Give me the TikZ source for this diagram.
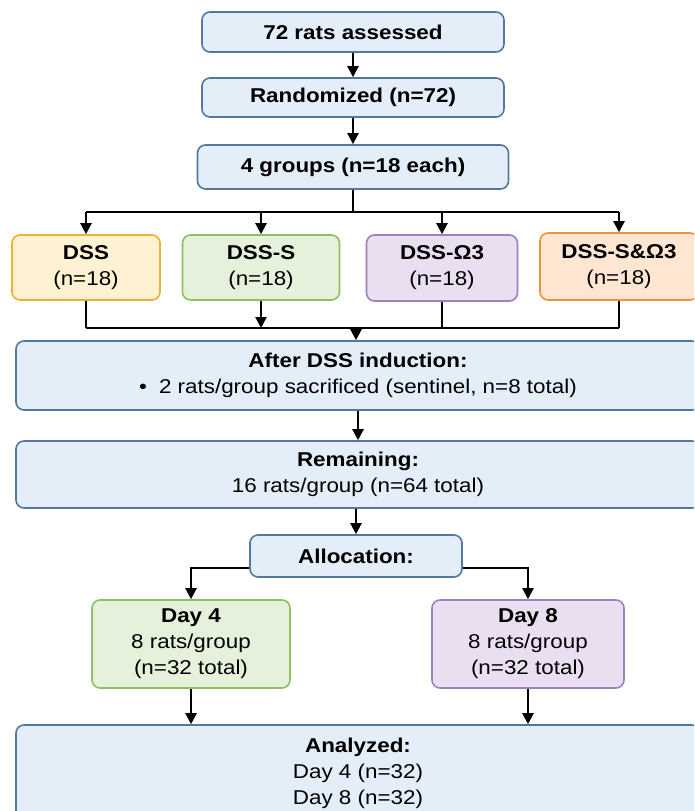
\documentclass[tikz,border=0pt]{standalone}
\usepackage{fontspec}
\setmainfont[FakeStretch=1.12]{Liberation Sans}
\usetikzlibrary{arrows.meta,calc}
\definecolor{bluefill}{HTML}{E4EEF8}
\definecolor{blueline}{HTML}{54779F}
\definecolor{yelfill}{HTML}{FFF2D2}
\definecolor{yelline}{HTML}{E8B13A}
\definecolor{grnfill}{HTML}{E6F1DC}
\definecolor{grnline}{HTML}{8CC063}
\definecolor{purfill}{HTML}{EADFF1}
\definecolor{purline}{HTML}{A07FBF}
\definecolor{orafill}{HTML}{FEE6D2}
\definecolor{oraline}{HTML}{F0913F}
\tikzset{
  box/.style={draw, rounded corners=8pt, line width=1.6pt, align=center,
    inner sep=0pt, font=\fontsize{20}{26}\selectfont, anchor=center},
  bluebox/.style={box, draw=blueline, fill=bluefill},
  yelbox/.style={box, draw=yelline, fill=yelfill},
  grnbox/.style={box, draw=grnline, fill=grnfill},
  purbox/.style={box, draw=purline, fill=purfill},
  orabox/.style={box, draw=oraline, fill=orafill},
  conn/.style={line width=2.2pt, black},
  arr/.style={conn, -{Triangle[length=11pt,width=11pt]}}
}
\begin{document}
\begin{tikzpicture}[x=1pt,y=-1pt]
\useasboundingbox (0,0) rectangle (694,811);
\clip (0,0) rectangle (694,811);
\fill[white] (0,0) rectangle (694,811);

\node[bluebox, minimum width=302pt, minimum height=40pt] (b1) at (353,32) {\textbf{72 rats assessed}};
\node[bluebox, minimum width=302pt, minimum height=39pt] (b2) at (353,97.5) {\textbf{Randomized (n=72)}};
\node[bluebox, minimum width=311pt, minimum height=44pt] (b3) at (353,167) {\textbf{4 groups\hspace{6pt}(n=18 each)}};

\node[yelbox, minimum width=148pt, minimum height=65pt] (g1) at (86,267.5) {\textbf{DSS}\\(n=18)};
\node[grnbox, minimum width=157pt, minimum height=65pt] (g2) at (261,267.5) {\textbf{DSS-S}\\(n=18)};
\node[purbox, minimum width=151pt, minimum height=66pt] (g3) at (442,268) {\textbf{DSS-Ω3}\\(n=18)};
\node[orabox, minimum width=158pt, minimum height=67pt] (g4) at (619,266.5) {\textbf{DSS-S\&Ω3}\\(n=18)};

\node[bluebox, minimum width=684pt, minimum height=69pt] (after) at (358,375.5)
  {\textbf{After DSS induction:}\\•\hspace{12pt}2 rats/group sacrificed (sentinel, n=8 total)};
\node[bluebox, minimum width=684pt, minimum height=67pt] (rem) at (358,474.5)
  {\textbf{Remaining:}\\16 rats/group (n=64 total)};
\node[bluebox, minimum width=212pt, minimum height=42pt] (alloc) at (356,556) {\textbf{Allocation:}};
\node[grnbox, minimum width=198pt, minimum height=88pt] (d4) at (191,644)
  {\textbf{Day 4}\\8 rats/group\\(n=32 total)};
\node[purbox, minimum width=192pt, minimum height=88pt] (d8) at (528,644)
  {\textbf{Day 8}\\8 rats/group\\(n=32 total)};
\node[bluebox, minimum width=684pt, minimum height=96pt] (an) at (358,773)
  {\textbf{Analyzed:}\\Day 4 (n=32)\\Day 8 (n=32)};

% top chain
\draw[arr] (b1) -- (b2);
\draw[arr] (b2) -- (b3);

% branch to groups
\coordinate (br) at (353,212);
\draw[conn] (b3.south) -- (br);
\draw[conn] (g1.north |- br) -- (g4.north |- br);
\draw[arr] (g1.north |- br) -- (g1.north);
\draw[arr] (g2.north |- br) -- (g2.north);
\draw[arr] (g3.north |- br) -- (g3.north);
\draw[arr] (g4.north |- br) -- (g4.north);

% merge
\coordinate (mg) at (356,328);
\draw[conn] (g1.south) -- (g1.south |- mg);
\draw[arr] (g2.south) -- (g2.south |- mg);
\draw[conn] (g3.south) -- (g3.south |- mg);
\draw[conn] (g4.south) -- (g4.south |- mg);
\draw[conn] (g1.south |- mg) -- (g4.south |- mg);
\draw[arr] (mg) -- (mg |- after.north);

\draw[arr] (after) -- (rem);
\draw[arr] (alloc.north |- rem.south) -- (alloc.north);

\draw[arr] ($(alloc.west)+(0,12)$) -| (d4.north);
\draw[arr] ($(alloc.east)+(0,12)$) -| (d8.north);
\draw[arr] (d4.south) -- (d4.south |- an.north);
\draw[arr] (d8.south) -- (d8.south |- an.north);
\end{tikzpicture}
\end{document}
